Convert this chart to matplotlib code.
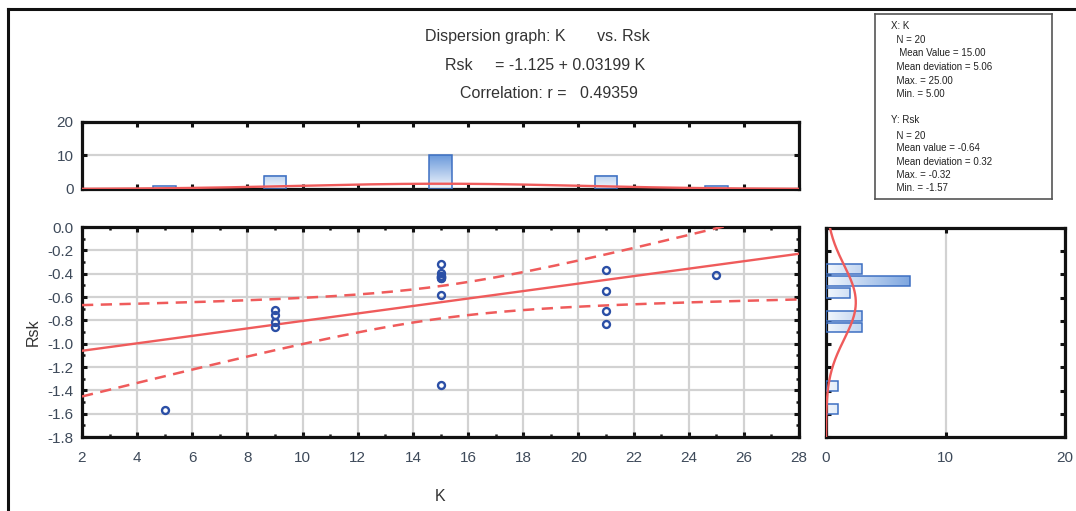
import numpy as np
import matplotlib
matplotlib.use("Agg")
import matplotlib.pyplot as plt
from matplotlib.colors import LinearSegmentedColormap
from matplotlib.lines import Line2D
from matplotlib.patches import Rectangle

plt.rcParams['font.family'] = ['Liberation Sans', 'DejaVu Sans']

# measured values: K groups and surface skewness Rsk
k_vals = [5,
          9, 9, 9, 9,
          15, 15, 15, 15, 15, 15, 15, 15, 15, 15,
          21, 21, 21, 21,
          25]
rsk_vals = [-1.57,
            -0.71, -0.75, -0.81, -0.86,
            -0.32, -0.39, -0.42, -0.42, -0.43, -0.43, -0.44, -0.44, -0.58, -1.35,
            -0.37, -0.55, -0.72, -0.83,
            -0.41]

# regression reported by the stats package
intercept = -1.125
slope = 0.03199
corr_r = 0.49359
t_crit = 2.101  # t(0.975, df=18)

k_stats = ["X: K", "  N = 20", "   Mean Value = 15.00", "  Mean deviation = 5.06",
           "  Max. = 25.00", "  Min. = 5.00"]
rsk_stats = ["Y: Rsk", "  N = 20", "  Mean value = -0.64", "  Mean deviation = 0.32",
             "  Max. = -0.32", "  Min. = -1.57"]

k_bins = np.arange(1.5, 29.0, 1.0)
rsk_bins = np.arange(-1.807, -0.2, 0.1)

RED = '#ef5b5b'
BLUE = '#2b4fa6'
EDGE = '#3d6fc2'
GRID = '#d2d2d2'
TICKC = '#3e4a5a'
grad = LinearSegmentedColormap.from_list('g', ['#f2f7fd', '#5f91d8'])

k = np.array(k_vals, dtype=float)
y = np.array(rsk_vals)
n = len(k)

fig = plt.figure(figsize=(10.76, 5.11), dpi=100)
W, H = 1076, 511


def px_axes(x0, y0, x1, y1):
    return fig.add_axes([x0 / W, 1 - y1 / H, (x1 - x0) / W, (y1 - y0) / H])


def style(ax):
    for s in ax.spines.values():
        s.set_linewidth(2.3)
        s.set_color('#111111')
    ax.tick_params(which='both', direction='in', length=3.5, width=2.2, color='#111111',
                   labelsize=11, labelcolor=TICKC)
    ax.tick_params(which='minor', length=2.5, width=1.8)


# scatter
ax = px_axes(82, 227, 799, 437)
style(ax)
ax.set_xlim(2, 28)
ax.set_ylim(-1.8, 0.0)
ax.set_xticks(np.arange(2, 29, 2))
ax.set_xticks(np.arange(3, 28, 2), minor=True)
yt = np.round(np.arange(-1.8, 0.01, 0.2), 1)
ax.set_yticks(yt)
ax.set_yticks(np.arange(-1.7, 0.0, 0.2), minor=True)
ax.set_yticklabels([f"{abs(v):.1f}" if v == 0 else f"{v:.1f}" for v in yt])
ax.tick_params(which='both', top=True, right=True)
ax.tick_params(axis='x', pad=10)
ax.tick_params(axis='y', pad=6)
ax.grid(True, which='major', color=GRID, lw=1.6)
ax.set_axisbelow(True)

xs = np.linspace(2, 28, 200)
fit = intercept + slope * xs
resid = y - (intercept + slope * k)
s = np.sqrt(np.sum(resid ** 2) / (n - 2))
sxx = np.sum((k - k.mean()) ** 2)
hw = t_crit * s * np.sqrt(1 / n + (xs - k.mean()) ** 2 / sxx)
ax.plot(xs, fit, color=RED, lw=1.7, zorder=3)
ax.plot(xs, fit + hw, color=RED, lw=1.8, ls=(0, (4.5, 3)), zorder=3)
ax.plot(xs, fit - hw, color=RED, lw=1.8, ls=(0, (4.5, 3)), zorder=3)
ax.plot(k, y, 'o', ms=5, mfc='none', mec=BLUE, mew=1.7, zorder=4)
ax.set_xlabel('K', fontsize=11.5, color='#333333', labelpad=17)
ax.set_ylabel('Rsk', fontsize=11.5, color='#333333', labelpad=5)

# top histogram of K
axt = px_axes(82, 122, 799, 189)
style(axt)
axt.set_xlim(2, 28)
axt.set_ylim(0, 20)
axt.set_xticks(np.arange(2, 29, 2))
axt.set_yticks([0, 10, 20])
axt.tick_params(top=True, right=True, labelbottom=False, pad=6)
axt.grid(True, axis='y', color=GRID, lw=1.6)
axt.set_axisbelow(True)
cnt, edges = np.histogram(k, bins=k_bins)
for c, e0, e1 in zip(cnt, edges[:-1], edges[1:]):
    if c == 0:
        continue
    xc = (e0 + e1) / 2
    bw = 0.83
    img = np.linspace(c, 0, 40).reshape(-1, 1)
    axt.imshow(img, extent=[xc - bw / 2, xc + bw / 2, 0, c], aspect='auto',
               cmap=grad, vmin=0, vmax=11, zorder=2)
    axt.add_patch(Rectangle((xc - bw / 2, 0), bw, c, fill=False, ec=EDGE, lw=1.1, zorder=3))
kk = np.linspace(2, 28, 200)
kd = n * 1.0 * np.exp(-0.5 * ((kk - 15.0) / 5.06) ** 2) / (5.06 * np.sqrt(2 * np.pi))
axt.plot(kk, kd, color=RED, lw=1.7, zorder=4)
axt.set_xlim(2, 28)
axt.set_ylim(0, 20)

# right histogram of Rsk
axr = px_axes(826, 228, 1065, 437)
style(axr)
axr.set_xlim(0, 20)
axr.set_ylim(-1.8, 0.0)
axr.set_xticks([0, 10, 20])
axr.set_yticks(yt)
axr.tick_params(top=True, right=True, labelleft=False)
axr.tick_params(axis='x', pad=10)
axr.grid(True, axis='x', color=GRID, lw=1.6)
axr.set_axisbelow(True)
cnt, edges = np.histogram(y, bins=rsk_bins)
for c, e0, e1 in zip(cnt, edges[:-1], edges[1:]):
    if c == 0:
        continue
    yc = (e0 + e1) / 2
    bh = 0.086
    img = np.linspace(0, c, 40).reshape(1, -1)
    axr.imshow(img, extent=[0, c, yc - bh / 2, yc + bh / 2], aspect='auto',
               cmap=grad, vmin=0, vmax=9, zorder=2)
    axr.add_patch(Rectangle((0, yc - bh / 2), c, bh, fill=False, ec=EDGE, lw=1.1, zorder=3))
yy = np.linspace(-1.8, 0, 200)
yd = n * 0.1 * np.exp(-0.5 * ((yy + 0.64) / 0.32) ** 2) / (0.32 * np.sqrt(2 * np.pi))
axr.plot(yd, yy, color=RED, lw=1.7, zorder=4)
axr.set_xlim(0, 20)
axr.set_ylim(-1.8, 0.0)

# titles
tc = '#333333'
fig.text(537 / W, 1 - 37 / H, "Dispersion graph: K       vs. Rsk", ha='center', va='center',
         fontsize=11.5, color=tc)
fig.text(545 / W, 1 - 66 / H, f"Rsk     = {intercept:.3f} + {slope:.5f} K",
         ha='center', va='center', fontsize=11.5, color=tc)
fig.text(549 / W, 1 - 94 / H, f"Correlation: r =   {corr_r:.5f}", ha='center', va='center',
         fontsize=11.5, color=tc)

# statistics box
box = px_axes(875, 14, 1052, 199)
box.set_xticks([])
box.set_yticks([])
for sp in box.spines.values():
    sp.set_color('#555555')
    sp.set_linewidth(1.2)
for txt, yp in zip(k_stats, [26, 40, 53, 67, 81, 94]):
    fig.text(891 / W, 1 - yp / H, txt, fontsize=7, va='center', color='#222222')
for txt, yp in zip(rsk_stats, [120, 136, 148, 162, 175, 188]):
    fig.text(891 / W, 1 - yp / H, txt, fontsize=7, va='center', color='#222222')

# outer frame
fig.add_artist(Line2D([8 / W, 8 / W], [0, 1 - 9 / H], color='#111111', lw=2.2))
fig.add_artist(Line2D([8 / W, 1], [1 - 9 / H, 1 - 9 / H], color='#111111', lw=2.2))

fig.savefig('out.png', dpi=100)
